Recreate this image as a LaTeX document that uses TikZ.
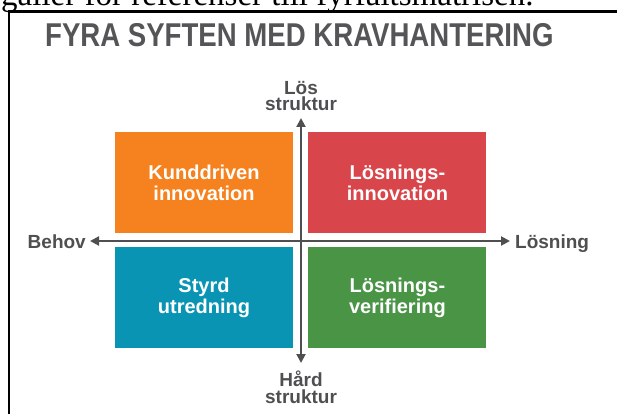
\documentclass[tikz,border=0pt]{standalone}
\usepackage{fontspec}
\setmainfont{Liberation Sans}
\newfontfamily\captionserif{Liberation Serif}
\usetikzlibrary{arrows.meta,positioning}
\definecolor{kundorange}{HTML}{F5821F}
\definecolor{losred}{HTML}{D8454A}
\definecolor{styrdblue}{HTML}{0A94B4}
\definecolor{verigreen}{HTML}{4A9446}
\definecolor{titlegray}{HTML}{555557}
\definecolor{axisgray}{HTML}{4F4F51}

\begin{document}
\begin{tikzpicture}[x=1pt,y=-1pt,
  quadrant/.style={rectangle, minimum width=178pt, minimum height=101pt, inner sep=0pt, text=white, align=center, font=\fontsize{20}{21}\selectfont\bfseries},
  axis/.style={draw=axisgray, line width=2pt, {Triangle[length=9pt,width=9pt]}-{Triangle[length=9pt,width=9pt]}},
  axislabel/.style={text=axisgray, inner sep=0pt, align=center, font=\fontsize{19}{16.5}\selectfont\bfseries}]
  \useasboundingbox (0,0) rectangle (617,414);

  % Cut-off caption line and frame
  \node[anchor=base west, inner sep=0pt, font=\captionserif\fontsize{33}{36}\selectfont] (caption) at (1,6) {galler för referenser till fyrfältsmatrisen.};
  \draw[line width=2.6pt] (9,11.3) rectangle (640,440);
  \node[anchor=base west, inner sep=0pt, text=titlegray, font=\fontsize{33}{36}\selectfont\bfseries] (title) at (45,47) {\scalebox{0.836}[1]{FYRA SYFTEN MED KRAVHANTERING}};

  % Quadrants
  \node[quadrant, fill=kundorange] (kund) at (204,182.5) {Kunddriven\\innovation};
  \node[quadrant, fill=losred] (losinno) [right=15pt of kund] {Lösnings-\\innovation};
  \node[quadrant, fill=styrdblue] (styrd) [below=14pt of kund] {Styrd\\utredning};
  \node[quadrant, fill=verigreen] (losveri) [right=15pt of styrd] {Lösnings-\\verifiering};

  % Axes
  \coordinate (west) at (90,241);
  \coordinate (east) at (510,241);
  \coordinate (north) at (301,118);
  \coordinate (south) at (301,363);
  \draw[axis] (west) -- (east);
  \draw[axis] (north) -- (south);

  % Axis labels
  \node[axislabel, anchor=base east] (behov) at (86,248) {Behov};
  \node[axislabel, anchor=base west] (losning) at (515,248) {Lösning};
  \node[axislabel, anchor=north] (los) at (301,81) {Lös\\struktur};
  \node[axislabel, anchor=north] (hard) at (301,371) {Hård\\struktur};
\end{tikzpicture}
\end{document}
